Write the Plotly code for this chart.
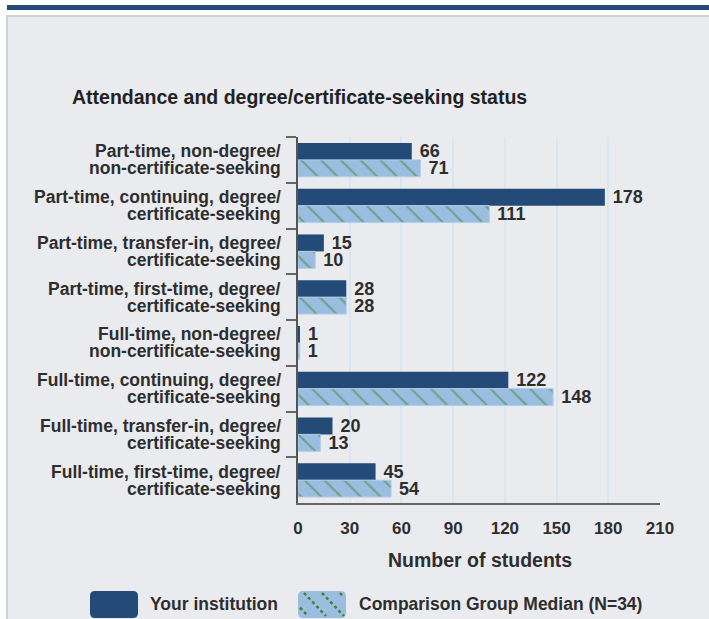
import plotly.graph_objects as go

# data
categories = [
    "Part-time, non-degree/<br>non-certificate-seeking",
    "Part-time, continuing, degree/<br>certificate-seeking",
    "Part-time, transfer-in, degree/<br>certificate-seeking",
    "Part-time, first-time, degree/<br>certificate-seeking",
    "Full-time, non-degree/<br>non-certificate-seeking",
    "Full-time, continuing, degree/<br>certificate-seeking",
    "Full-time, transfer-in, degree/<br>certificate-seeking",
    "Full-time, first-time, degree/<br>certificate-seeking",
]
your_institution = [66, 178, 15, 28, 1, 122, 20, 45]
comparison_median = [71, 111, 10, 28, 1, 148, 13, 54]
x_ticks = [0, 30, 60, 90, 120, 150, 180, 210]

DARK = "#244a77"
LIGHT = "#9bbde0"
GREEN = "#3a8436"
TXT = "#2e2e2e"
FONT = "Arial, Liberation Sans, sans-serif"

W, H = 709, 619
L, R, T, B = 298, 660, 137, 503  # plot area in pixels


def px(x, y):
    # pixel -> paper coords
    return (x - L) / (R - L), 1 - (y - T) / (B - T)


def rect(x0, y0, x1, y1, **kw):
    a, b = px(x0, y0)
    c, d = px(x1, y1)
    return dict(type="rect", xref="paper", yref="paper", x0=a, y0=d, x1=c, y1=b, **kw)


def rounded(x0, y0, x1, y1, r, **kw):
    pts = [
        ("M", x0 + r, y0), ("L", x1 - r, y0), ("Q", x1, y0, x1, y0 + r),
        ("L", x1, y1 - r), ("Q", x1, y1, x1 - r, y1), ("L", x0 + r, y1),
        ("Q", x0, y1, x0, y1 - r), ("L", x0, y0 + r), ("Q", x0, y0, x0 + r, y0),
    ]
    s = ""
    for p in pts:
        cmd, nums = p[0], p[1:]
        coords = []
        for i in range(0, len(nums), 2):
            a, b = px(nums[i], nums[i + 1])
            coords.append(f"{a:.5f},{b:.5f}")
        s += cmd + " ".join(coords) + " "
    return dict(type="path", xref="paper", yref="paper", path=s + "Z", **kw)


fig = go.Figure()
fig.add_trace(go.Bar(
    y=categories, x=your_institution, orientation="h", name="Your institution",
    marker=dict(color=DARK, line=dict(width=0)),
    text=["\u00a0" + str(v) for v in your_institution], textposition="outside",
    textfont=dict(family=FONT, size=18, color=TXT, weight="bold"),
    constraintext="none", cliponaxis=False,
))
fig.add_trace(go.Bar(
    y=categories, x=comparison_median, orientation="h", name="Comparison Group Median (N=34)",
    marker=dict(color=LIGHT, line=dict(width=1, color="#b4cde8"),
                pattern=dict(shape="\\", bgcolor=LIGHT, fgcolor=GREEN, size=14, solidity=0.14)),
    text=["\u00a0" + str(v) for v in comparison_median], textposition="outside",
    textfont=dict(family=FONT, size=18, color=TXT, weight="bold"),
    constraintext="none", cliponaxis=False,
))

shapes = [
    rect(7, 16, 715, 630, fillcolor="#eaebef", line=dict(color="#d2d2d2", width=2), layer="below"),
    rect(7, 5, 715, 10, fillcolor="#244a77", line=dict(width=0), layer="below"),
    # legend swatches
    rounded(90, 591, 138, 618, 5, fillcolor=DARK, line=dict(width=0)),
    rounded(298, 591, 346, 618, 5, fillcolor=LIGHT, line=dict(width=0)),
]
# dotted diagonals in the comparison swatch, clipped to it
for sx in [286, 304, 322, 340]:
    x0, y0, x1, y1 = sx, 593, sx + 22, 616
    xa, xb = max(x0, 300), min(x1, 344)
    if xb - xa < 4:
        continue
    ya = y0 + (xa - x0) * (y1 - y0) / (x1 - x0)
    yb = y0 + (xb - x0) * (y1 - y0) / (x1 - x0)
    a, b = px(xa, ya)
    c, d = px(xb, yb)
    shapes.append(dict(type="line", xref="paper", yref="paper", x0=a, y0=b, x1=c, y1=d,
                       line=dict(color=GREEN, width=2.5, dash="dot")))

annotations = []
tx, ty = px(70, 97)
annotations.append(dict(text="Attendance and degree/certificate-seeking status", x=tx, y=ty,
                        xref="paper", yref="paper", xanchor="left", yanchor="middle", showarrow=False,
                        font=dict(family=FONT, size=19.5, color="#222222", weight="bold")))
tx, ty = px(480, 560)
annotations.append(dict(text="Number of students", x=tx, y=ty, xref="paper", yref="paper",
                        xanchor="center", yanchor="middle", showarrow=False,
                        font=dict(family=FONT, size=19.5, color=TXT, weight="bold")))
for lx, label in [(148, "Your institution"), (357, "Comparison Group Median (N=34)")]:
    tx, ty = px(lx, 604)
    annotations.append(dict(text=label, x=tx, y=ty, xref="paper", yref="paper",
                            xanchor="left", yanchor="middle", showarrow=False,
                            font=dict(family=FONT, size=17.5, color=TXT, weight="bold")))

# category labels, two tight lines each
lab_x, _ = px(283, 0)
for cat in categories:
    first, second = cat.split("<br>")
    for line, shift in [(first, 8.5), (second, -8.5)]:
        annotations.append(dict(text=line, x=lab_x, y=cat, xref="paper", yref="y",
                                xanchor="right", yanchor="middle", yshift=shift, showarrow=False,
                                font=dict(family=FONT, size=17.5, color=TXT, weight="bold")))

fig.update_layout(
    width=W, height=H,
    margin=dict(l=L, r=W - R, t=T, b=H - B, pad=0),
    paper_bgcolor="white", plot_bgcolor="#f6f6f6",
    barmode="group", bargap=0.26, bargroupgap=0,
    showlegend=False,
    shapes=shapes, annotations=annotations,
    font=dict(family=FONT, color=TXT),
)
fig.update_xaxes(
    range=[0, 210], tickvals=x_ticks, showgrid=True, gridcolor="#dbe5f0", gridwidth=2,
    zeroline=False, showline=True, linecolor="#666666", linewidth=2,
    ticks="", ticklabelstandoff=9,
    tickfont=dict(family=FONT, size=17, color=TXT, weight="bold"),
)
fig.update_yaxes(
    autorange="reversed", showline=True, linecolor="#555555", linewidth=2,
    ticks="outside", tickson="boundaries", ticklen=10, tickcolor="#666666", tickwidth=2,
    showgrid=False, showticklabels=False,
)

fig.write_html("out.html", config={"displayModeBar": False},
               post_script="document.body.style.margin='0';")
